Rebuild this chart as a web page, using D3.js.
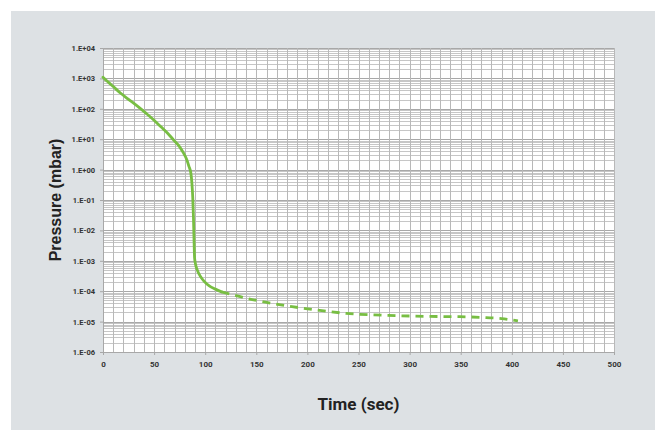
<!DOCTYPE html>
<html><head><meta charset="utf-8">
<script src="https://cdn.jsdelivr.net/npm/d3@7"></script>
<style>body{margin:0;background:#fff}svg{display:block}</style>
</head><body><svg id="c" width="655" height="430"></svg>
<script>
const xTickValues = [0, 50, 100, 150, 200, 250, 300, 350, 400, 450, 500];
const yTickValues = [1e4, 1e3, 1e2, 1e1, 1e0, 1e-1, 1e-2, 1e-3, 1e-4, 1e-5, 1e-6];
const yTickLabels = ["1.E+04", "1.E+03", "1.E+02", "1.E+01", "1.E+00", "1.E-01", "1.E-02", "1.E-03", "1.E-04", "1.E-05", "1.E-06"];

const solidTime = [0, 5, 10, 17, 25, 34, 42, 50, 57, 63, 69, 75, 79, 82, 84, 86, 87, 87.8, 88.5, 89, 89.6, 90.5, 92, 95, 99, 104, 110, 116];
const solidPressure = [1100, 760, 540, 330, 205, 120, 72, 42, 25, 16, 9.5, 5.6, 3.4, 2.1, 1.3, 0.76, 0.35, 0.125, 0.028, 6.3e-3, 1.26e-3, 7.9e-4, 5.2e-4, 3.2e-4, 2.1e-4, 1.5e-4, 1.17e-4, 9.5e-5];

const dashTime = [116, 130, 140, 160, 185, 210, 238, 265, 292, 320, 349, 375, 390, 406];
const dashPressure = [9.5e-5, 7.2e-5, 5.9e-5, 4.3e-5, 3.1e-5, 2.4e-5, 1.86e-5, 1.66e-5, 1.55e-5, 1.48e-5, 1.45e-5, 1.35e-5, 1.26e-5, 1.05e-5];

const svg = d3.select("#c");
svg.append("rect").attr("x", 11).attr("y", 11).attr("width", 644).attr("height", 419).attr("fill", "#dde1e4");

const L = 103, R = 614, T = 48, B = 352;
const x = d3.scaleLinear().domain([0, 500]).range([L, R]);
const y = d3.scaleLog().domain([1e-6, 1e4]).range([B, T]);

svg.append("rect").attr("x", L).attr("y", T).attr("width", R - L).attr("height", B - T).attr("fill", "#fff");

// horizontal grid
const hVals = [];
for (let d = -6; d <= 3; d++) for (let k = 1; k <= 9; k++) hVals.push(k * Math.pow(10, d));
hVals.push(1e4);
const g = svg.append("g");
g.selectAll("line.h").data(hVals).join("line")
  .attr("x1", L).attr("x2", R)
  .attr("y1", d => Math.round(y(d)) + 0.5).attr("y2", d => Math.round(y(d)) + 0.5)
  .attr("stroke", d => Math.abs(Math.log10(d) - Math.round(Math.log10(d))) < 1e-9 ? "#a8a8a8" : "#c6c6c6")
  .attr("stroke-width", 1);
// vertical grid
const vVals = d3.range(0, 501, 10);
g.selectAll("line.v").data(vVals).join("line")
  .attr("y1", T).attr("y2", B)
  .attr("x1", d => Math.round(x(d)) + 0.5).attr("x2", d => Math.round(x(d)) + 0.5)
  .attr("stroke", "#b8b8b8").attr("stroke-width", 1);

// axes
const fontTick = "'Liberation Sans Narrow','Roboto','Arial Narrow',sans-serif";
const xAxis = svg.append("g").attr("transform", `translate(0,${B})`)
  .call(d3.axisBottom(x).tickValues(xTickValues).tickSize(3).tickPadding(6).tickFormat(d3.format("d")));
xAxis.select(".domain").attr("stroke", "#a8a8a8");
xAxis.selectAll(".tick line").attr("stroke", "#a8a8a8");
xAxis.selectAll("text").attr("font-family", fontTick).attr("font-weight", "bold").attr("font-size", 8).attr("fill", "#333");

const yAxis = svg.append("g").attr("transform", `translate(${L},0)`)
  .call(d3.axisLeft(y).tickValues(yTickValues).tickSize(3).tickPadding(5).tickFormat((d, i) => yTickLabels[i]));
yAxis.select(".domain").attr("stroke", "#a8a8a8");
yAxis.selectAll(".tick line").attr("stroke", "#a8a8a8");
yAxis.selectAll("text").attr("font-family", fontTick).attr("font-weight", "bold").attr("font-size", 7.5).attr("fill", "#333");

// lines
const line = d3.line().x(d => x(d[0])).y(d => y(d[1])).curve(d3.curveMonotoneX);
svg.append("path").datum(solidTime.map((t, i) => [t, solidPressure[i]]))
  .attr("d", line).attr("fill", "none").attr("stroke", "#78be43").attr("stroke-width", 2.8).attr("stroke-linecap", "round");
svg.append("path").datum(dashTime.map((t, i) => [t, dashPressure[i]]))
  .attr("d", line).attr("fill", "none").attr("stroke", "#78be43").attr("stroke-width", 2.8).attr("stroke-dasharray", "8,6");

// titles
svg.append("text").attr("transform", `translate(61,${(T + B) / 2}) rotate(-90)`)
  .attr("text-anchor", "middle").attr("font-family", "'Liberation Sans',Arial,sans-serif").attr("font-weight", "bold")
  .attr("font-size", 16).attr("fill", "#222").text("Pressure (mbar)");
svg.append("text").attr("x", (L + R) / 2).attr("y", 410)
  .attr("text-anchor", "middle").attr("font-family", "'Roboto',sans-serif").attr("font-weight", "bold")
  .attr("font-size", 17).attr("fill", "#222").text("Time (sec)");
</script></body></html>
